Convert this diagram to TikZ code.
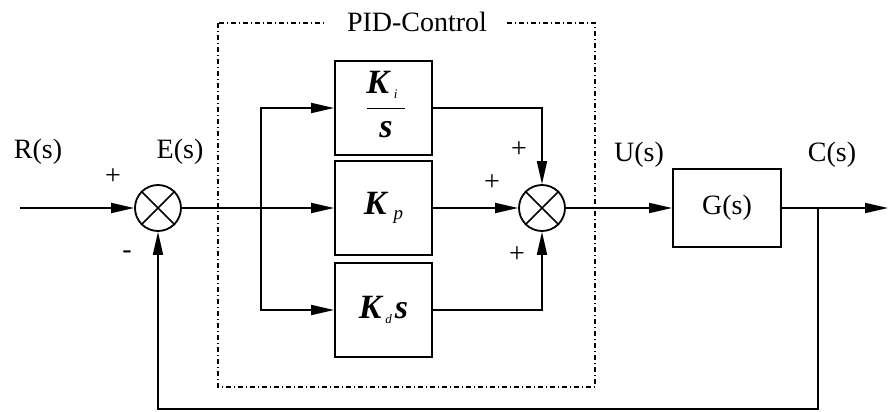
\documentclass[tikz,border=0pt]{standalone}
\usepackage{fontspec}
\setmainfont{Liberation Serif}
\usetikzlibrary{arrows.meta,positioning,calc}

\newcommand{\gainK}[3][13]{\textbf{\textit{K}}\kern#3\raisebox{-5pt}{\fontsize{#1}{#1}\selectfont\textit{#2}}}
\newcommand{\svar}{\textbf{\textit{s}}}

\begin{document}
\begin{tikzpicture}[x=1pt, y=-1pt,
  lbl/.style={font=\fontsize{28}{28}\selectfont, inner sep=0pt},
  gain/.style={font=\fontsize{34}{34}\selectfont, inner sep=0pt},
  blk/.style={draw, line width=1.8pt, minimum width=97pt, minimum height=94pt, inner sep=0pt},
  sumj/.style={draw, circle, line width=1.8pt, minimum size=46pt, inner sep=0pt},
  arr/.style={-{Triangle[length=23pt,width=10pt]}, line width=1.8pt},
  ln/.style={line width=1.8pt},
  pid/.style={line width=1.2pt, dash pattern=on 5pt off 3pt on 1pt off 3pt}]
\useasboundingbox (0,0) rectangle (889,412);

% PID frame
\draw[pid] (218,23) rectangle (595,387);
\node[lbl, fill=white, inner xsep=20pt] (pidlbl) at (417,22) {PID-Control};

% blocks
\node[sumj] (s1) at (158,208) {};
\node[sumj] (s2) at (542,208) {};
\node[blk] (ki) at (383.5,108) {};
\node[blk, gain] (kp) at (383.5,208) {\gainK[19]{p}{5pt}};
\node[blk, gain] (kd) at (383.5,310) {\gainK{d}{2pt}\kern3pt\svar};
\node[blk, lbl, minimum width=108pt, minimum height=78pt] (g) at (727,208) {G(s)};
\foreach \n in {s1,s2}
  \draw[line width=1.5pt] (\n.45) -- (\n.225) (\n.135) -- (\n.-45);

% Ki / s
\node[gain] (kinum) at (382,85) {\gainK{i}{3pt}};
\node[gain] (kiden) at (386,130) {\svar};
\draw[line width=0.9pt] ($(ki.center)+(-17,0)$) -- ($(ki.center)+(21,0)$);

% signals
\node[lbl] (rs) at (38,152) {R(s)};
\node[lbl] (es) at (180,152) {E(s)};
\node[lbl] (us) at (639,155) {U(s)};
\node[lbl] (cs) at (832,155) {C(s)};
\node[lbl] (p1) at (113,177) {+};
\node[lbl] (m1) at (127,255) {-};
\node[lbl] (p2) at (519,150) {+};
\node[lbl] (p3) at (492,183) {+};
\node[lbl] (p4) at (517,255) {+};

\coordinate (in) at (20,208);
\coordinate (br) at (261,208);
\coordinate (fb) at (818,208);
\coordinate (fbb) at (158,409);
\coordinate (out) at (888,208);

\draw[arr] (in) -- (s1);
\draw[ln] (s1) -- (br);
\draw[arr] (br) -- (kp);
\draw[arr] (br) |- (ki);
\draw[arr] (br) |- (kd);
\draw[arr] (kp) -- (s2);
\draw[arr] (ki) -| (s2);
\draw[arr] (kd) -| (s2);
\draw[arr] (s2) -- (g);
\draw[arr] (g) -- (out);
\draw[arr] (fb) |- (fbb) -- (s1);
\end{tikzpicture}
\end{document}
